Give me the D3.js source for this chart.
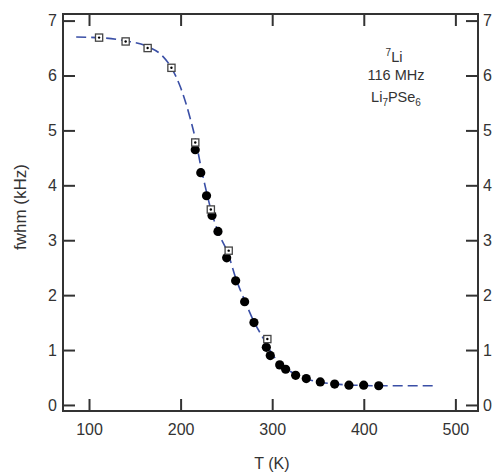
<!DOCTYPE html>
<html>
<head>
<script src="https://d3js.org/d3.v7.min.js"></script>
<style>
  body { margin: 0; background: #fff; }
  text { font-family: "Liberation Sans", Arial, sans-serif; fill: #333; }
</style>
</head>
<body>
<svg id="chart" width="495" height="472"></svg>
<script>
// open squares (T, fwhm)
var sqT = [111, 140, 164, 190, 216, 233, 252.5, 294.7];
var sqW = [6.69, 6.62, 6.50, 6.14, 4.78, 3.56, 2.81, 1.20];

// filled circles
var dotT = [216, 222, 228.3, 234.3, 240.8, 250.3, 260.1, 269.9, 280.1, 293.6, 297.9, 308.2, 314.7, 325.6, 337.2, 352.5, 368.2, 383.8, 399.9, 416.3];
var dotW = [4.65, 4.23, 3.81, 3.45, 3.16, 2.68, 2.26, 1.88, 1.50, 1.05, 0.90, 0.73, 0.65, 0.54, 0.48, 0.42, 0.38, 0.36, 0.36, 0.35];

// dashed fit line
var fitT = [86, 110, 140, 165, 180, 190, 200, 210, 217, 222, 228, 234, 241, 252, 260, 270, 280, 290, 296, 302, 310, 320, 330, 340, 355, 370, 390, 420, 480];
var fitW = [6.70, 6.69, 6.63, 6.52, 6.36, 6.14, 5.78, 5.25, 4.78, 4.35, 3.90, 3.50, 3.15, 2.75, 2.32, 1.90, 1.52, 1.22, 1.04, 0.88, 0.73, 0.61, 0.52, 0.46, 0.41, 0.38, 0.36, 0.35, 0.35];

var xTicks = [100, 200, 300, 400, 500];
var yTicks = [0, 1, 2, 3, 4, 5, 6, 7];

var svg = d3.select("#chart");
var pLeft = 63, pRight = 478, pTop = 14, pBottom = 411;

var x = d3.scaleLinear().domain([71.6, 524.7]).range([pLeft, pRight]);
var y = d3.scaleLinear().domain([-0.11, 7.12]).range([pBottom, pTop]);

var tk = 12;
var axisColor = "#333";

// axes with inward ticks
svg.append("g").attr("transform", "translate(0," + pBottom + ")")
  .call(d3.axisBottom(x).tickValues(xTicks).tickSizeInner(-tk).tickSizeOuter(0).tickPadding(13));
svg.append("g").attr("transform", "translate(0," + pTop + ")")
  .call(d3.axisTop(x).tickValues(xTicks).tickSizeInner(-tk).tickSizeOuter(0).tickFormat(""));
svg.append("g").attr("transform", "translate(" + pLeft + ",0)")
  .call(d3.axisLeft(y).tickValues(yTicks).tickSizeInner(-tk).tickSizeOuter(0).tickPadding(6));
svg.append("g").attr("transform", "translate(" + pRight + ",0)")
  .call(d3.axisRight(y).tickValues(yTicks).tickSizeInner(-tk).tickSizeOuter(0).tickPadding(5));

svg.selectAll(".domain").remove();
svg.selectAll(".tick line").attr("stroke", axisColor).attr("stroke-width", 2);
svg.selectAll(".tick text").style("font-size", "16px").attr("fill", "#333")
  .style("font-family", "'Liberation Sans', Arial, sans-serif");

svg.append("rect")
  .attr("x", pLeft).attr("y", pTop)
  .attr("width", pRight - pLeft).attr("height", pBottom - pTop)
  .attr("fill", "none").attr("stroke", axisColor).attr("stroke-width", 2);

// fit line
var fit = fitT.map(function(t, i) { return [t, fitW[i]]; });
svg.append("path")
  .datum(fit)
  .attr("d", d3.line().curve(d3.curveMonotoneX)
    .x(function(d) { return x(d[0]); })
    .y(function(d) { return y(d[1]); }))
  .attr("fill", "none")
  .attr("stroke", "#3a4fa6")
  .attr("stroke-width", 1.6)
  .attr("stroke-dasharray", "10,5");

// filled circles
svg.append("g").selectAll("circle")
  .data(dotT.map(function(t, i) { return [t, dotW[i]]; }))
  .enter().append("circle")
  .attr("cx", function(d) { return x(d[0]); })
  .attr("cy", function(d) { return y(d[1]); })
  .attr("r", 4.6)
  .attr("fill", "#000");

// open squares with centre dot
var sq = svg.append("g").selectAll("g")
  .data(sqT.map(function(t, i) { return [t, sqW[i]]; }))
  .enter().append("g")
  .attr("transform", function(d) { return "translate(" + x(d[0]) + "," + y(d[1]) + ")"; });
sq.append("rect")
  .attr("x", -3.6).attr("y", -3.6).attr("width", 7.2).attr("height", 7.2)
  .attr("fill", "#fff").attr("stroke", "#444").attr("stroke-width", 1.3);
sq.append("circle").attr("r", 1.2).attr("fill", "#000");

// annotation
var ann = svg.append("g").style("font-size", "14.5px");
var t1 = ann.append("text").attr("x", 394).attr("y", 62).attr("text-anchor", "middle");
t1.append("tspan").text("7").style("font-size", "10px").attr("dy", -6);
t1.append("tspan").text("Li").attr("dy", 6);
ann.append("text").attr("x", 396).attr("y", 80).attr("text-anchor", "middle").text("116 MHz");
var t3 = ann.append("text").attr("x", 396).attr("y", 102).attr("text-anchor", "middle");
t3.append("tspan").text("Li");
t3.append("tspan").text("7").style("font-size", "10px").attr("dy", 4);
t3.append("tspan").text("PSe").attr("dy", -4);
t3.append("tspan").text("6").style("font-size", "10px").attr("dy", 4);

// axis titles
svg.append("text")
  .attr("x", 272).attr("y", 469)
  .attr("text-anchor", "middle")
  .style("font-size", "16px")
  .text("T (K)");
svg.append("text")
  .attr("transform", "translate(26,207) rotate(-90)")
  .attr("text-anchor", "middle")
  .style("font-size", "17px")
  .text("fwhm (kHz)");
</script>
</body>
</html>
